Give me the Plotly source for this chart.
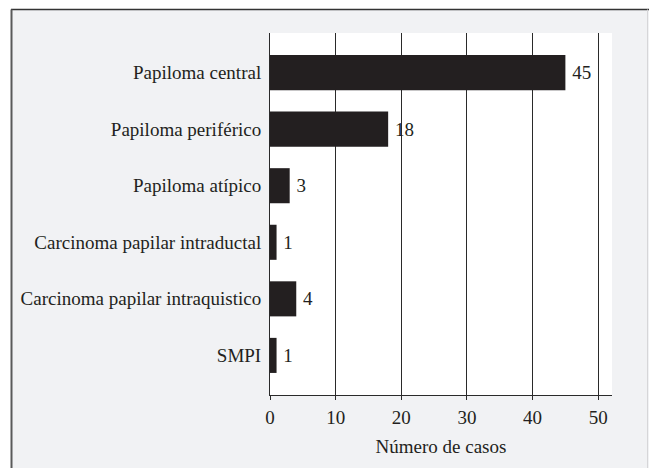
import plotly.graph_objects as go

categories = [
    "Papiloma central",
    "Papiloma periférico",
    "Papiloma atípico",
    "Carcinoma papilar intraductal",
    "Carcinoma papilar intraquistico",
    "SMPI",
]
values = [45, 18, 3, 1, 4, 1]
x_ticks = [0, 10, 20, 30, 40, 50]

INK = "#231f20"
FONT = "'Liberation Serif', 'Times New Roman', 'DejaVu Serif', serif"
FS = 19

# plot area in pixels
W, H = 649, 468
L, R, T, B = 270, 37, 33, 73
PW = W - L - R
PH = H - T - B

def px_x(p):
    return (p - L) / PW

def px_y(p):
    return (H - B - p) / PH

fig = go.Figure(
    go.Bar(
        y=categories,
        x=values,
        orientation="h",
        marker=dict(color=INK, line=dict(width=0)),
        text=["\u2009" + str(v) for v in values],
        textposition="outside",
        textfont=dict(family=FONT, size=FS, color=INK),
        cliponaxis=False,
        hoverinfo="skip",
    )
)

shapes = [
    dict(type="rect", xref="paper", yref="paper", x0=px_x(0), x1=px_x(W), y0=px_y(0), y1=px_y(9.5),
         fillcolor="white", line=dict(width=0), layer="below"),
    dict(type="rect", xref="paper", yref="paper", x0=px_x(0), x1=px_x(11), y0=px_y(0), y1=px_y(H),
         fillcolor="white", line=dict(width=0), layer="below"),
    dict(type="line", xref="paper", yref="paper", x0=px_x(11), x1=px_x(W), y0=px_y(9.5), y1=px_y(9.5),
         line=dict(color="#333333", width=1.5)),
    dict(type="line", xref="paper", yref="paper", x0=px_x(11.5), x1=px_x(11.5), y0=px_y(9.5), y1=px_y(H),
         line=dict(color="#5a5a5a", width=2)),
    dict(type="line", xref="paper", yref="paper", x0=px_x(647.5), x1=px_x(647.5), y0=px_y(9.5), y1=px_y(H),
         line=dict(color="#d6d6d8", width=1)),
]

fig.update_layout(
    width=W,
    height=H,
    margin=dict(l=L, r=R, t=T, b=B, pad=0),
    paper_bgcolor="#f1f2f4",
    plot_bgcolor="white",
    showlegend=False,
    bargap=0.38,
    font=dict(family=FONT, size=FS, color=INK),
    shapes=shapes,
    xaxis=dict(
        range=[0, 52.1],
        tickvals=x_ticks,
        ticktext=[str(t) for t in x_ticks],
        showgrid=True,
        gridcolor="#2a2a2a",
        gridwidth=1,
        zeroline=False,
        showline=True,
        linecolor="#2a2a2a",
        linewidth=1,
        ticks="outside",
        ticklen=4,
        tickcolor="#2a2a2a",
        ticklabelstandoff=1,
        tickfont=dict(family=FONT, size=FS, color=INK),
        title=dict(text="Número de casos", font=dict(family=FONT, size=FS, color=INK), standoff=12),
    ),
    yaxis=dict(
        categoryorder="array",
        categoryarray=categories,
        range=[5.7, -0.7],
        showgrid=False,
        zeroline=False,
        showline=True,
        linecolor="#2a2a2a",
        linewidth=1,
        ticks="",
        ticklabelstandoff=4,
        tickfont=dict(family=FONT, size=FS, color=INK),
    ),
)

fig.write_html(
    "out.html",
    config={"displayModeBar": False},
    post_script=(
        "document.body.style.margin='0';"
        "document.body.style.overflow='hidden';"
        "document.documentElement.style.overflow='hidden';"
    ),
)
